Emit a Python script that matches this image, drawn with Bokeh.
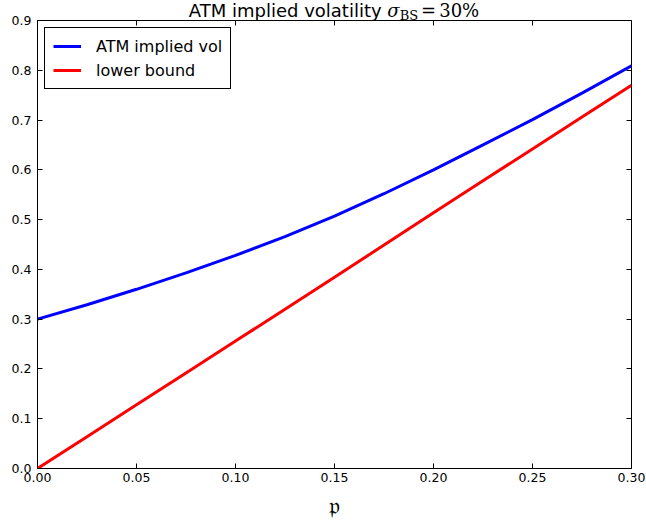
from bokeh.plotting import figure
from bokeh.models import Range1d, FixedTicker, PrintfTickFormatter, LinearAxis, Div
from bokeh.layouts import column
from bokeh.embed import file_html
from bokeh.resources import INLINE

# ---- data ----
p_vals = [0.0, 0.025, 0.05, 0.075, 0.10, 0.125, 0.15, 0.175, 0.20, 0.225, 0.25, 0.275, 0.30]
atm_vol = [0.300, 0.329, 0.360, 0.393, 0.428, 0.466, 0.507, 0.552, 0.600, 0.650, 0.701, 0.754, 0.809]
lower_bound = [0.0, 0.064, 0.128, 0.192, 0.256, 0.320, 0.384, 0.449, 0.514, 0.578, 0.642, 0.706, 0.770]

x_ticks = [0.0, 0.05, 0.10, 0.15, 0.20, 0.25, 0.30]
y_ticks = [0.0, 0.1, 0.2, 0.3, 0.4, 0.5, 0.6, 0.7, 0.8, 0.9]

series_labels = ["ATM implied vol", "lower bound"]
title_main = "ATM implied volatility"
x_label = "\U0001D52D"

title_html = (
    f'<span style="font-family:\'DejaVu Sans\';font-size:18px;">{title_main} </span>'
    '<span style="font-family:\'DejaVu Serif\';font-size:18px;">'
    '<i>\u03c3</i>'
    '<span style="font-size:13px;position:relative;top:3px;">BS</span>'
    '<span style="padding-left:3px;">=</span>'
    '<span style="padding-left:3px;">30%</span>'
    '</span>'
)
# the title sits over the figure's (transparent) top border, as in the reference
title_div = Div(text=title_html, width=594, height=21, margin=(0, 15, -21, 37),
                styles={"text-align": "center", "line-height": "21px",
                        "color": "black", "white-space": "nowrap", "width": "594px"})

p = figure(width=646, height=525, output_backend="svg", toolbar_location=None,
           x_range=Range1d(0, 0.30), y_range=Range1d(0, 0.9),
           min_border_left=37, min_border_right=15, min_border_top=20, min_border_bottom=57)

p.background_fill_color = "white"
p.border_fill_alpha = 0.0
p.outline_line_color = "black"
p.outline_line_width = 1
p.xgrid.visible = False
p.ygrid.visible = False

p.line(p_vals, atm_vol, line_color="#0000ff", line_width=3, legend_label=series_labels[0])
p.line(p_vals, lower_bound, line_color="#ff0000", line_width=3, legend_label=series_labels[1])

# axes
for ax, ticks, fmt in ((p.xaxis[0], x_ticks, "%.2f"), (p.yaxis[0], y_ticks, "%.1f")):
    ax.ticker = FixedTicker(ticks=ticks)
    ax.formatter = PrintfTickFormatter(format=fmt)
    ax.major_tick_in = 5
    ax.major_tick_out = 0
    ax.minor_tick_in = 0
    ax.minor_tick_out = 0
    ax.major_tick_line_color = "black"
    ax.axis_line_color = "black"
    ax.major_label_text_font = "DejaVu Sans"
    ax.major_label_text_font_size = "12.5px"
    ax.major_label_text_color = "black"

p.yaxis[0].major_label_standoff = 6
p.xaxis[0].major_label_standoff = 4
p.xaxis[0].axis_label = x_label
p.xaxis[0].axis_label_text_font = "DejaVu Serif"
p.xaxis[0].axis_label_text_font_style = "normal"
p.xaxis[0].axis_label_text_font_size = "24px"
p.xaxis[0].axis_label_text_color = "black"
p.xaxis[0].axis_label_standoff = 7

# tick marks on the top and right edges (no labels)
for loc, ticks in (("above", x_ticks), ("right", y_ticks)):
    ax = LinearAxis(ticker=FixedTicker(ticks=ticks),
                    major_label_text_font_size="1px", major_label_text_color=None,
                    major_label_standoff=0,
                    major_tick_in=5, major_tick_out=0, minor_tick_in=0, minor_tick_out=0,
                    major_tick_line_color="black", axis_line_color=None)
    p.add_layout(ax, loc)

# legend
lg = p.legend[0]
lg.location = "top_left"
lg.margin = 7
lg.padding = 8
lg.spacing = 4
lg.glyph_width = 28
lg.glyph_height = 20
lg.label_height = 20
lg.label_standoff = 15
lg.label_text_font = "DejaVu Sans"
lg.label_text_font_size = "16px"
lg.label_text_color = "black"
lg.border_line_color = "black"
lg.border_line_width = 1
lg.border_line_alpha = 1.0
lg.background_fill_color = "white"
lg.background_fill_alpha = 1.0

layout = column(title_div, p, spacing=0)
open("out.html", "w").write(file_html(layout, INLINE))
